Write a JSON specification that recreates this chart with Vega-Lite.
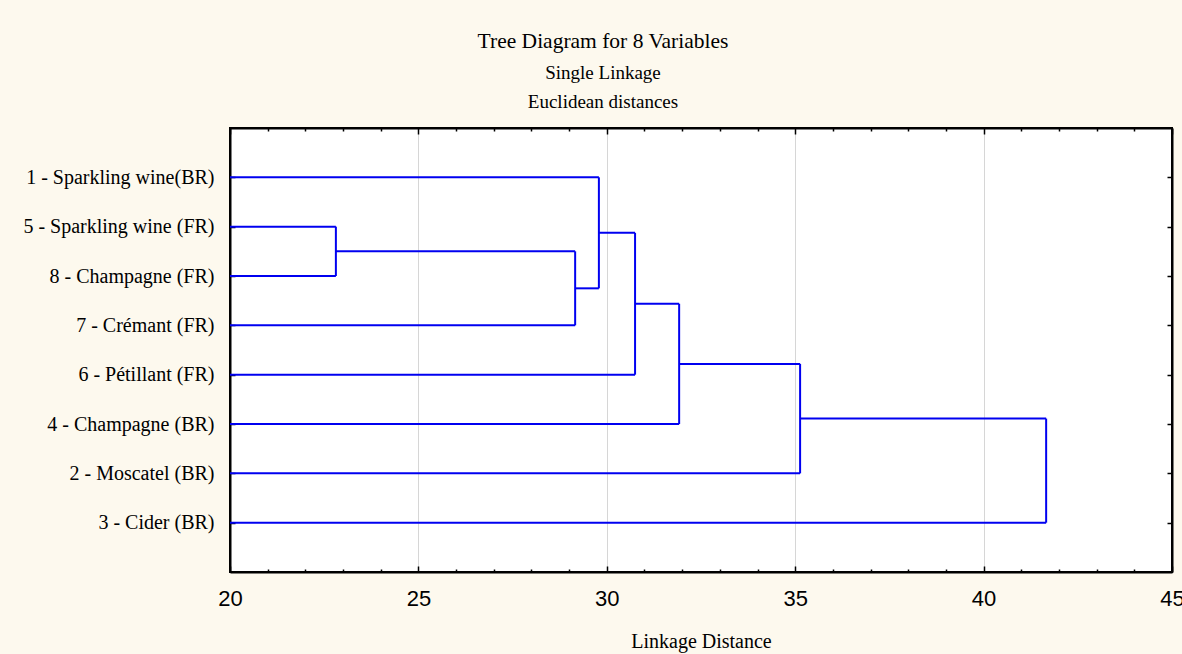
{
  "$schema": "https://vega.github.io/schema/vega-lite/v6.json",
  "width": 942,
  "height": 444,
  "autosize": {"type": "none"},
  "padding": {"left": 230, "top": 128, "right": 10, "bottom": 82},
  "background": "#FDF9EE",
  "title": {
    "text": "Tree Diagram for 8 Variables",
    "subtitle": ["Single Linkage", "Euclidean distances"],
    "font": "Liberation Serif",
    "fontSize": 21.5,
    "fontWeight": "normal",
    "color": "black",
    "subtitleFont": "Liberation Serif",
    "subtitleFontSize": 19,
    "subtitleColor": "black",
    "subtitlePadding": 12,
    "subtitleLineHeight": 29,
    "anchor": "middle",
    "frame": "group",
    "dx": -98,
    "offset": 15
  },
  "config": {
    "view": {"stroke": "black", "strokeWidth": 2, "fill": "white"},
    "axis": {
      "domainColor": "black",
      "domainWidth": 2,
      "tickColor": "black",
      "tickWidth": 1.5,
      "labelColor": "black",
      "titleColor": "black"
    }
  },
  "datasets": {
    "horiz": [
      {"d0": 20, "d1": 22.81, "r": 2},
      {"d0": 20, "d1": 22.81, "r": 3},
      {"d0": 22.81, "d1": 29.16, "r": 2.5},
      {"d0": 20, "d1": 29.16, "r": 4},
      {"d0": 20, "d1": 29.79, "r": 1},
      {"d0": 29.16, "d1": 29.79, "r": 3.25},
      {"d0": 29.79, "d1": 30.75, "r": 2.125},
      {"d0": 20, "d1": 30.75, "r": 5},
      {"d0": 30.75, "d1": 31.92, "r": 3.5625},
      {"d0": 20, "d1": 31.92, "r": 6},
      {"d0": 31.92, "d1": 35.13, "r": 4.78125},
      {"d0": 20, "d1": 35.13, "r": 7},
      {"d0": 35.13, "d1": 41.66, "r": 5.890625},
      {"d0": 20, "d1": 41.66, "r": 8}
    ],
    "vert": [
      {"d": 22.81, "r0": 2, "r1": 3},
      {"d": 29.16, "r0": 2.5, "r1": 4},
      {"d": 29.79, "r0": 1, "r1": 3.25},
      {"d": 30.75, "r0": 2.125, "r1": 5},
      {"d": 31.92, "r0": 3.5625, "r1": 6},
      {"d": 35.13, "r0": 4.78125, "r1": 7},
      {"d": 41.66, "r0": 5.890625, "r1": 8}
    ]
  },
  "layer": [
    {
      "data": {"name": "horiz"},
      "mark": {"type": "rule", "color": "#0000F0", "strokeWidth": 2},
      "encoding": {
        "x": {
          "field": "d0",
          "type": "quantitative",
          "scale": {"domain": [20, 45], "nice": false, "zero": false},
          "axis": {
            "orient": "bottom",
            "title": "Linkage Distance",
            "titleFont": "Liberation Serif",
            "titleFontSize": 20,
            "titleFontWeight": "normal",
            "titlePadding": 19,
            "values": [20,21,22,23,24,25,26,27,28,29,30,31,32,33,34,35,36,37,38,39,40,41,42,43,44,45],
            "labelExpr": "datum.value % 5 === 0 ? datum.label : ''",
            "labelFont": "Liberation Sans",
            "labelFontSize": 22,
            "labelPadding": 22,
            "labelOverlap": false,
            "labelFlush": false,
            "labelBound": false,
            "tickSize": {"condition": {"test": "datum.value % 5 === 0", "value": -6}, "value": -3},
            "grid": true,
            "gridColor": "#d6d6d6",
            "gridWidth": 1,
            "gridOpacity": {"condition": {"test": "datum.value % 5 === 0 && datum.value > 20 && datum.value < 45", "value": 1}, "value": 0}
          }
        },
        "x2": {"field": "d1"},
        "y": {
          "field": "r",
          "type": "quantitative",
          "scale": {"domain": [0, 9], "nice": false, "zero": false, "reverse": true},
          "axis": {
            "orient": "left",
            "title": null,
            "values": [1,2,3,4,5,6,7,8],
            "labelExpr": "['', '1 - Sparkling wine(BR)', '5 - Sparkling wine (FR)', '8 - Champagne (FR)', '7 - Crémant (FR)', '6 - Pétillant (FR)', '4 - Champagne (BR)', '2 - Moscatel (BR)', '3 - Cider (BR)'][datum.value]",
            "labelFont": "Liberation Serif",
            "labelFontSize": 20,
            "labelLimit": 400,
            "labelPadding": 21,
            "tickSize": -5,
            "grid": false
          }
        }
      }
    },
    {
      "data": {"name": "vert"},
      "mark": {"type": "rule", "color": "#0000F0", "strokeWidth": 2},
      "encoding": {
        "x": {
          "field": "d",
          "type": "quantitative",
          "axis": {
            "orient": "top",
            "title": null,
            "values": [20,21,22,23,24,25,26,27,28,29,30,31,32,33,34,35,36,37,38,39,40,41,42,43,44,45],
            "labels": false,
            "grid": false,
            "tickSize": {"condition": {"test": "datum.value % 5 === 0", "value": -6}, "value": -3}
          }
        },
        "y": {
          "field": "r0",
          "type": "quantitative",
          "axis": {
            "orient": "right",
            "title": null,
            "values": [1,2,3,4,5,6,7,8],
            "labels": false,
            "grid": false,
            "tickSize": -5
          }
        },
        "y2": {"field": "r1"}
      }
    }
  ],
  "resolve": {"axis": {"x": "independent", "y": "independent"}}
}
